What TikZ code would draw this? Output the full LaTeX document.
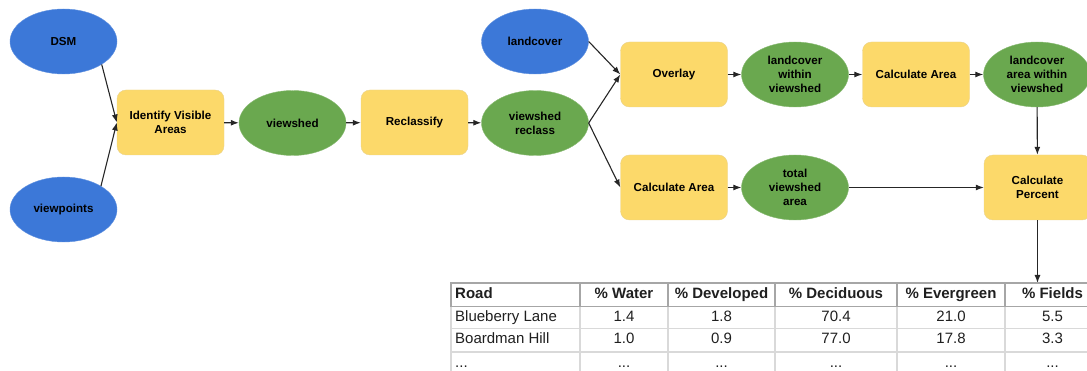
\documentclass[tikz,border=0pt]{standalone}
\usepackage{fontspec}
\setmainfont{Liberation Sans}
\usetikzlibrary{shapes.geometric,arrows.meta}
\definecolor{inblue}{HTML}{3C78D8}
\definecolor{outgreen}{HTML}{6AA84F}
\definecolor{toolyellow}{HTML}{FCD96A}
\definecolor{toolrim}{HTML}{E9D28C}
\definecolor{arrowgray}{HTML}{262626}
\definecolor{lineheavy}{HTML}{A6A6A6}
\definecolor{linelight}{HTML}{D9D9D9}
\begin{document}
\begin{tikzpicture}[x=1pt,y=-1pt,>={Latex[length=8pt,width=6pt]},
  inp/.style={ellipse,draw=inblue!80!white,fill=inblue,minimum width=107pt,minimum height=65pt,inner sep=0pt,align=center,font=\fontsize{11.6}{13.8}\selectfont\bfseries},
  outp/.style={ellipse,draw=outgreen!80!white,fill=outgreen,minimum width=107pt,minimum height=65pt,inner sep=0pt,align=center,font=\fontsize{11.6}{13.8}\selectfont\bfseries},
  toolbox/.style={rectangle,rounded corners=9pt,draw=toolrim,fill=toolyellow,minimum width=107pt,minimum height=65pt,inner sep=0pt,align=center,font=\fontsize{11.6}{13.8}\selectfont\bfseries},
  flow/.style={->,draw=arrowgray,line width=1.1pt},
  tabtxt/.style={inner sep=0pt,text=black!88,font=\fontsize{15}{18}\selectfont},
  tabhead/.style={tabtxt,font=\fontsize{15}{18}\selectfont\bfseries}]
\useasboundingbox (0,0) rectangle (1087,371);
\clip (0,0) rectangle (1087,371);
% model
\node[inp] (dsm) at (63.5,41.5) {DSM};
\node[inp] (vpts) at (63.5,209.5) {viewpoints};
\node[toolbox] (visible) at (170.5,122.5) {Identify Visible\\Areas};
\node[outp] (vshed) at (292.5,123) {viewshed};
\node[toolbox] (reclass) at (414.5,122.5) {Reclassify};
\node[inp] (lcover) at (535,41.5) {landcover};
\node[outp] (vsreclass) at (535,123) {viewshed\\reclass};
\node[toolbox] (overlay) at (674,74.5) {Overlay};
\node[outp] (lcwithin) at (795,74.5) {landcover\\within\\viewshed};
\node[toolbox] (areaA) at (916,74.5) {Calculate Area};
\node[outp] (lcarea) at (1037,74.5) {landcover\\area within\\viewshed};
\node[toolbox] (areaB) at (674,187.5) {Calculate Area};
\node[outp] (vstotal) at (795,187.5) {total\\viewshed\\area};
\node[toolbox] (percent) at (1037.5,187.5) {Calculate\\Percent};
\coordinate (tabtop) at (1037.5,283);
\draw[flow] (dsm.-31) -- (visible.west);
\draw[flow] (vpts.32) -- (visible.west);
\draw[flow] (visible) -- (vshed);
\draw[flow] (vshed) -- (reclass);
\draw[flow] (reclass) -- (vsreclass);
\draw[flow] (lcover.east) -- (overlay.west);
\draw[flow] (vsreclass.east) -- (overlay.west);
\draw[flow] (vsreclass.east) -- (areaB.west);
\draw[flow] (overlay) -- (lcwithin);
\draw[flow] (lcwithin) -- (areaA);
\draw[flow] (areaA) -- (lcarea);
\draw[flow] (areaB) -- (vstotal);
\draw[flow] (vstotal) -- (percent);
\draw[flow] (lcarea) -- (percent);
\draw[flow] (percent) -- (tabtop);
% table grid
\draw[linelight,line width=1.5pt] (451,328.5) -- (1100,328.5);
\draw[linelight,line width=1.5pt] (451,352) -- (1100,352);
\draw[linelight,line width=1.5pt] (451,306.5) -- (451,375);
\draw[linelight,line width=1.5pt] (580,306.5) -- (580,375);
\draw[linelight,line width=1.5pt] (668,306.5) -- (668,375);
\draw[linelight,line width=1.5pt] (775,306.5) -- (775,375);
\draw[linelight,line width=1.5pt] (897,306.5) -- (897,375);
\draw[linelight,line width=1.5pt] (1005,306.5) -- (1005,375);
\draw[lineheavy,line width=1.5pt] (451,283) rectangle (1100,306.5);
\draw[lineheavy,line width=1.5pt] (580,283) -- (580,306.5);
\draw[lineheavy,line width=1.5pt] (668,283) -- (668,306.5);
\draw[lineheavy,line width=1.5pt] (775,283) -- (775,306.5);
\draw[lineheavy,line width=1.5pt] (897,283) -- (897,306.5);
\draw[lineheavy,line width=1.5pt] (1005,283) -- (1005,306.5);
% table text
\node[tabhead,anchor=west] (hroad) at (455,295) {Road\strut};
\node[tabhead] (hwater) at (624,295) {\% Water\strut};
\node[tabhead] (hdev) at (721.5,295) {\% Developed\strut};
\node[tabhead] (hdec) at (836,295) {\% Deciduous\strut};
\node[tabhead] (hever) at (951,295) {\% Evergreen\strut};
\node[tabhead] (hfield) at (1052.5,295) {\% Fields\strut};
\node[tabtxt,anchor=west] (aroad) at (455,317.5) {Blueberry Lane\strut};
\node[tabtxt] (awater) at (624,317.5) {1.4\strut};
\node[tabtxt] (adev) at (721.5,317.5) {1.8\strut};
\node[tabtxt] (adec) at (836,317.5) {70.4\strut};
\node[tabtxt] (aever) at (951,317.5) {21.0\strut};
\node[tabtxt] (afield) at (1052.5,317.5) {5.5\strut};
\node[tabtxt,anchor=west] (broad) at (455,340) {Boardman Hill\strut};
\node[tabtxt] (bwater) at (624,340) {1.0\strut};
\node[tabtxt] (bdev) at (721.5,340) {0.9\strut};
\node[tabtxt] (bdec) at (836,340) {77.0\strut};
\node[tabtxt] (bever) at (951,340) {17.8\strut};
\node[tabtxt] (bfield) at (1052.5,340) {3.3\strut};
\node[tabtxt,anchor=west] (croad) at (455,363.5) {...\strut};
\node[tabtxt] (cwater) at (624,363.5) {...\strut};
\node[tabtxt] (cdev) at (721.5,363.5) {...\strut};
\node[tabtxt] (cdec) at (836,363.5) {...\strut};
\node[tabtxt] (cever) at (951,363.5) {...\strut};
\node[tabtxt] (cfield) at (1052.5,363.5) {...\strut};
\end{tikzpicture}
\end{document}
